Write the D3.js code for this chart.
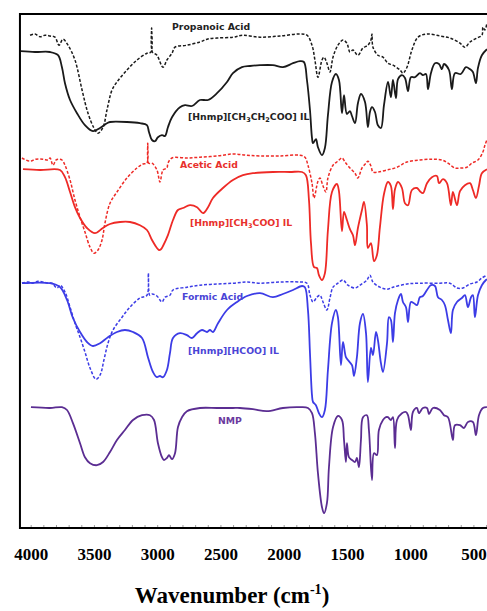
<!DOCTYPE html>
<html><head><meta charset="utf-8">
<script src="https://cdn.jsdelivr.net/npm/d3@7/dist/d3.min.js"></script>
<style>body{margin:0;background:#fff}svg{display:block}</style>
</head><body><svg id="c" width="487" height="611"></svg>
<script>
// ---- data: [wavenumber (cm-1), transmittance (a.u., offset)] ----
const propanoicAcid = [[4005,123.2],[3966,123.5],[3926,122.8],[3887,123.2],[3847,123],[3808,122.7],[3776,120.7],[3745,122.2],[3705,120.7],[3650,117],[3594,109.5],[3547,103.7],[3500,100],[3468,98.7],[3428,100.2],[3397,104.5],[3357,109.5],[3318,111.5],[3239,114.5],[3160,117],[3081,118.7],[3049,119],[3044,125],[3038,119],[3002,118.2],[2954,115.2],[2923,117],[2883,118.7],[2859,120.2],[2765,120.7],[2662,121.5],[2606,122.2],[2527,122.5],[2401,122.7],[2322,123.2],[2187,122.7],[2029,123],[1871,123.5],[1816,123.2],[1776,120.7],[1753,117],[1729,112.7],[1697,117],[1681,117.7],[1658,116.2],[1634,114],[1610,117.7],[1571,120.7],[1531,122],[1500,121.2],[1476,119],[1452,119.5],[1413,118.2],[1373,120],[1334,120.7],[1310,122],[1302,123.5],[1294,120.2],[1255,118.2],[1215,117.7],[1176,116.2],[1136,115.7],[1080,114.5],[1057,113.7],[1025,115.2],[986,119.5],[938,122.7],[867,123.5],[764,123],[685,122.5],[606,121.2],[567,120.2],[527,121.5],[472,122.5],[432,123.2],[425,125.2],[409,124.5],[393,126.2]];
const propanoateIL = [[4079,119.2],[3966,119],[3847,119],[3784,118.2],[3753,115.2],[3729,111.2],[3689,107],[3634,103.7],[3571,100.7],[3508,99.2],[3452,100],[3397,101.2],[3373,101.5],[3239,101.5],[3136,101.2],[3081,100.7],[3065,99],[3041,97],[3017,96.7],[2994,97.7],[2962,98.2],[2938,98],[2915,100.2],[2883,102.7],[2820,105.2],[2780,105.7],[2725,105.5],[2662,107],[2598,107],[2527,108.7],[2448,111.5],[2401,113.7],[2330,115.2],[2266,115.5],[2187,115.7],[2085,115.7],[2006,115.2],[1926,116.2],[1871,116.7],[1840,116.5],[1816,112],[1792,104.5],[1776,97.5],[1768,96.2],[1745,97.2],[1729,95.2],[1697,93.2],[1674,95],[1650,103.2],[1618,111.5],[1587,113.5],[1563,112],[1539,103.7],[1523,108.2],[1500,103.5],[1476,104.2],[1460,103],[1436,101.2],[1413,106.2],[1389,108.5],[1357,106.5],[1334,100.2],[1318,104],[1302,105.2],[1278,104],[1255,100.7],[1231,100],[1207,105.7],[1175,111.5],[1152,107.7],[1136,112],[1112,107.5],[1096,112.2],[1065,113.2],[1041,112.5],[1017,109.2],[994,112.7],[962,112.7],[923,113.7],[899,113.2],[875,113.5],[859,109.7],[836,113.7],[804,116.2],[772,116],[749,114.7],[733,116],[693,114.5],[670,109.7],[646,113.7],[599,113.5],[559,115.2],[527,114.7],[504,114],[480,111.2],[464,115],[433,118.2],[393,119.7]];
const aceticAcid = [[4069,92.5],[4006,91.7],[3958,92.2],[3903,92.2],[3863,92],[3847,92.5],[3824,90.7],[3800,92],[3784,92.2],[3753,92],[3729,90.7],[3689,87],[3650,82],[3610,77.7],[3571,74],[3531,70.2],[3500,68.7],[3468,69.5],[3436,72],[3413,76.2],[3373,81.2],[3318,84],[3239,87.5],[3160,90],[3112,91],[3081,91.2],[3075,96.2],[3067,91.2],[3041,91.2],[3002,89.5],[2978,86.5],[2954,89.5],[2923,90],[2915,91.2],[2883,92.5],[2765,92.5],[2662,92.7],[2527,93],[2401,93.5],[2290,93.2],[2187,93],[2029,93],[1871,93.2],[1832,92.7],[1808,90.7],[1776,86.2],[1760,82.5],[1729,86.7],[1713,87.5],[1689,85.5],[1666,84],[1650,87.5],[1610,90.7],[1571,91.7],[1539,92.5],[1515,91.5],[1476,90],[1436,88.7],[1413,87.5],[1381,90],[1349,91.2],[1334,91.7],[1310,90.5],[1294,89],[1255,89],[1183,89.5],[1104,90.2],[1025,91.5],[922,92],[820,92.2],[749,92],[701,91.2],[646,90],[606,90],[551,90.2],[512,91.2],[464,92],[425,94],[409,95.7],[393,97]];
const acetateIL = [[4061,89.7],[3926,89.5],[3768,89.5],[3729,87.7],[3689,84],[3650,80.2],[3610,77.5],[3555,75],[3492,73.7],[3429,75],[3373,76],[3294,76.5],[3215,76.5],[3136,75.7],[3081,74.5],[3041,72],[3002,70],[2986,69.5],[2970,69.7],[2954,70.5],[2915,73.2],[2875,77],[2836,79.5],[2796,80],[2741,80.7],[2685,80.2],[2638,78.7],[2598,80.2],[2559,82.5],[2480,85],[2401,87],[2322,88.2],[2243,88.7],[2085,89],[1950,89],[1855,89],[1824,88.2],[1800,82],[1784,71.2],[1760,65.2],[1737,65],[1721,63.2],[1697,62],[1674,63.7],[1650,74.5],[1618,84],[1579,86],[1563,84.2],[1539,74.2],[1523,79],[1500,77],[1476,74.7],[1452,73.2],[1436,70.7],[1413,75],[1381,79.5],[1365,81.5],[1342,75.7],[1334,70],[1310,71.2],[1286,66.7],[1263,68.2],[1239,75.2],[1207,83.5],[1176,86.5],[1152,85.5],[1136,79.7],[1120,84.7],[1096,86.5],[1065,85],[1041,81.2],[1017,80.7],[986,84.5],[946,85],[923,84.2],[899,83.7],[867,86.2],[828,87.7],[788,88],[772,86.2],[741,87.2],[709,86.2],[678,80.7],[662,84],[630,80.7],[606,84.2],[567,85.7],[527,86.2],[504,84.5],[480,82.5],[456,85.5],[433,88.7],[393,89.7]];
const formicAcid = [[4069,61.2],[4021,61.5],[3982,61.2],[3942,61.7],[3903,61.5],[3863,61.2],[3832,61.2],[3792,60],[3768,60.7],[3729,59],[3689,55.2],[3650,51.2],[3610,47.7],[3571,44],[3531,40],[3484,37.2],[3452,38.2],[3421,42],[3389,46.2],[3349,49.5],[3278,52.7],[3215,55.2],[3136,57.5],[3081,58.2],[3070,63.7],[3059,58.2],[3041,58.5],[3002,58],[2962,56.5],[2938,57.7],[2899,58.2],[2875,59.5],[2765,60.2],[2662,60.7],[2527,61],[2401,61.2],[2290,61.5],[2187,61.2],[2029,61.5],[1871,61.5],[1816,61.2],[1792,58.2],[1768,56.5],[1737,57.7],[1713,58.2],[1689,56.5],[1658,54.5],[1634,57.5],[1610,60.2],[1571,61.2],[1531,62],[1492,60.7],[1436,60],[1397,60.7],[1342,62],[1318,63.2],[1294,61.5],[1239,60.2],[1183,59.7],[1136,60.2],[1025,61],[922,61.2],[765,61.2],[686,61.2],[630,60],[583,60],[527,61],[472,61.5],[433,62.5],[393,63.2]];
const formateIL = [[4069,61.2],[3847,61.2],[3768,60.2],[3713,57],[3666,52.5],[3610,49],[3555,46.5],[3508,45.5],[3452,46.2],[3389,47.7],[3318,49],[3255,49.5],[3191,49],[3120,47.5],[3073,42.7],[3033,39],[3002,37.7],[2978,38],[2954,37.7],[2923,39.5],[2899,43.7],[2875,47.5],[2820,48.7],[2765,48.2],[2725,47.5],[2685,48.7],[2646,49.5],[2606,49],[2583,49.5],[2559,49],[2519,51.2],[2448,54.5],[2369,56.5],[2290,58],[2187,58.7],[2085,57.7],[2006,58.5],[1926,59.5],[1855,60.5],[1832,60.2],[1808,54.5],[1792,43.7],[1776,33.2],[1768,31.5],[1745,30.7],[1721,28.7],[1697,27.7],[1674,29.5],[1650,39.5],[1618,51.2],[1587,54.5],[1571,52.7],[1547,40.7],[1531,46.5],[1508,42.7],[1492,42],[1460,40.7],[1444,38],[1421,42.7],[1397,51.2],[1373,53.5],[1349,48.7],[1334,36.5],[1310,45],[1294,43.2],[1270,49],[1255,47],[1231,41.2],[1215,39],[1183,46.2],[1168,52.7],[1152,52],[1136,46.5],[1120,53.7],[1096,57],[1073,58.5],[1057,56.5],[1033,55.2],[1017,51.5],[994,56.5],[970,56.2],[946,55.7],[923,57.7],[899,58],[867,59.5],[836,60.7],[804,60.5],[780,57.7],[749,57],[725,55.7],[701,52],[678,48.7],[662,54.5],[630,56.5],[591,57.5],[567,58.2],[543,55.2],[519,57.7],[504,58.2],[488,52.7],[464,58.2],[433,60.7],[401,62],[393,62.2]];
const nmp = [[3998,30.2],[3847,30],[3753,30.2],[3713,29.5],[3666,26.2],[3610,21.2],[3571,17.7],[3531,16.2],[3476,15.7],[3428,16.5],[3373,19],[3318,22],[3255,24.5],[3191,27],[3120,28.2],[3057,28.2],[3025,27],[2994,21.2],[2962,17.7],[2946,17],[2923,17.5],[2907,18.2],[2883,17.2],[2859,18.7],[2836,25.2],[2804,27.7],[2765,29.2],[2662,30],[2527,30],[2401,30],[2346,30],[2243,29.7],[2132,29.2],[2006,30],[1871,30.2],[1808,30],[1776,28.7],[1753,23.7],[1729,13.7],[1697,5.2],[1681,3.7],[1658,6.2],[1642,15.2],[1610,25.2],[1571,28],[1539,27],[1523,22],[1508,16.5],[1500,21.2],[1484,17.7],[1460,17],[1436,16.5],[1421,17.5],[1405,15.2],[1389,22],[1373,27.7],[1342,28.2],[1326,24.5],[1302,12],[1286,18.7],[1263,18.2],[1247,24.5],[1215,27],[1191,27.7],[1176,27.7],[1152,27],[1136,27.7],[1120,20],[1104,27],[1065,28.7],[1033,29],[1017,28.2],[994,24.5],[978,29],[946,30],[931,28.7],[899,30],[867,30],[851,28.5],[820,30],[765,29.5],[733,28.2],[701,27.7],[662,22],[646,25.7],[606,25.7],[575,25],[543,26.5],[504,26.5],[480,23.2],[456,28.2],[425,30],[393,30.2]];

const tickLabels = [4000, 3500, 3000, 2500, 2000, 1500, 1000, 500];
const minorTicks = d3.range(4000, 399, -100);

const series = [
  {data: propanoicAcid, color: "#1a1a1a", dash: true},
  {data: propanoateIL, color: "#1a1a1a", dash: false},
  {data: aceticAcid, color: "#ee2a26", dash: true},
  {data: acetateIL, color: "#ee2a26", dash: false},
  {data: formicAcid, color: "#3c3ce6", dash: true},
  {data: formateIL, color: "#3c3ce6", dash: false},
  {data: nmp, color: "#5b2d92", dash: false}
];

const labels = [
  {parts: [["Propanoic Acid"]], w: 2883, v: 124.6, color: "#222"},
  {parts: [["[Hnmp][CH"],["3","sub"],["CH"],["2","sub"],["COO] IL"]], w: 2756, v: 102.1, color: "#222"},
  {parts: [["Acetic Acid"]], w: 2820, v: 90.1, color: "#e8302c"},
  {parts: [["[Hnmp][CH"],["3","sub"],["COO] IL"]], w: 2741, v: 75.4, color: "#e8302c"},
  {parts: [["Formic Acid"]], w: 2804, v: 57.1, color: "#4a44d6"},
  {parts: [["[Hnmp][HCOO] IL"]], w: 2756, v: 43.6, color: "#4a44d6"},
  {parts: [["NMP"]], w: 2519, v: 25.9, color: "#6a3a9e"}
];

const svg = d3.select("#c");
const x = d3.scaleLinear().domain([4000, 500]).range([30.7, 473.4]);
const y = d3.scaleLinear().domain([0, 128.5]).range([528, 14]);

const line = d3.line().x(d => x(d[0])).y(d => y(d[1])).curve(d3.curveCatmullRom.alpha(0.5));

svg.selectAll("path.s").data(series).join("path")
  .attr("class", "s")
  .attr("d", d => line(d.data))
  .attr("fill", "none")
  .attr("stroke", d => d.color)
  .attr("stroke-width", d => d.dash ? 1.5 : 1.8)
  .attr("stroke-dasharray", d => d.dash ? "3,1.8" : null)
  .attr("stroke-linejoin", "round");

const gMinor = svg.append("g").attr("transform", `translate(0,${y(0)})`)
  .call(d3.axisBottom(x).tickValues(minorTicks).tickSize(-3).tickFormat(""));
gMinor.select(".domain").remove();
gMinor.selectAll("line").attr("stroke", "#888").attr("stroke-width", 0.8);

const gLab = svg.append("g").attr("transform", `translate(0,${y(0)})`)
  .call(d3.axisBottom(x).tickValues(tickLabels).tickSize(0).tickPadding(20).tickFormat(d3.format("d")));
gLab.select(".domain").remove();
gLab.selectAll("text").attr("font-family", "'Liberation Serif','Times New Roman',serif")
  .attr("font-weight", "bold").attr("font-size", 17).attr("fill", "#000");

svg.append("rect")
  .attr("x", x(4085)).attr("y", y(128.5))
  .attr("width", x(200) - x(4085)).attr("height", y(0) - y(128.5))
  .attr("fill", "none").attr("stroke", "#000").attr("stroke-width", 2);

labels.forEach(l => {
  const t = svg.append("text").attr("x", x(l.w)).attr("y", y(l.v))
    .attr("font-family", "'DejaVu Sans',Verdana,sans-serif").attr("font-weight", "bold")
    .attr("font-size", 9.3).attr("fill", l.color);
  l.parts.forEach(p => {
    const s = t.append("tspan").text(p[0]);
    if (p[1] === "sub") s.attr("font-size", 6.5).attr("dy", 2);
    else if (t.selectAll("tspan").size() > 1) s.attr("dy", -2);
  });
});

const title = svg.append("text").attr("x", 232).attr("y", 603).attr("text-anchor", "middle")
  .attr("font-family", "'Liberation Serif','Times New Roman',serif").attr("font-weight", "bold")
  .attr("font-size", 23).attr("fill", "#000");
title.append("tspan").text("Wavenumber (cm");
title.append("tspan").text("-1").attr("font-size", 14).attr("dy", -9);
title.append("tspan").text(")").attr("dy", 9);
</script></body></html>
